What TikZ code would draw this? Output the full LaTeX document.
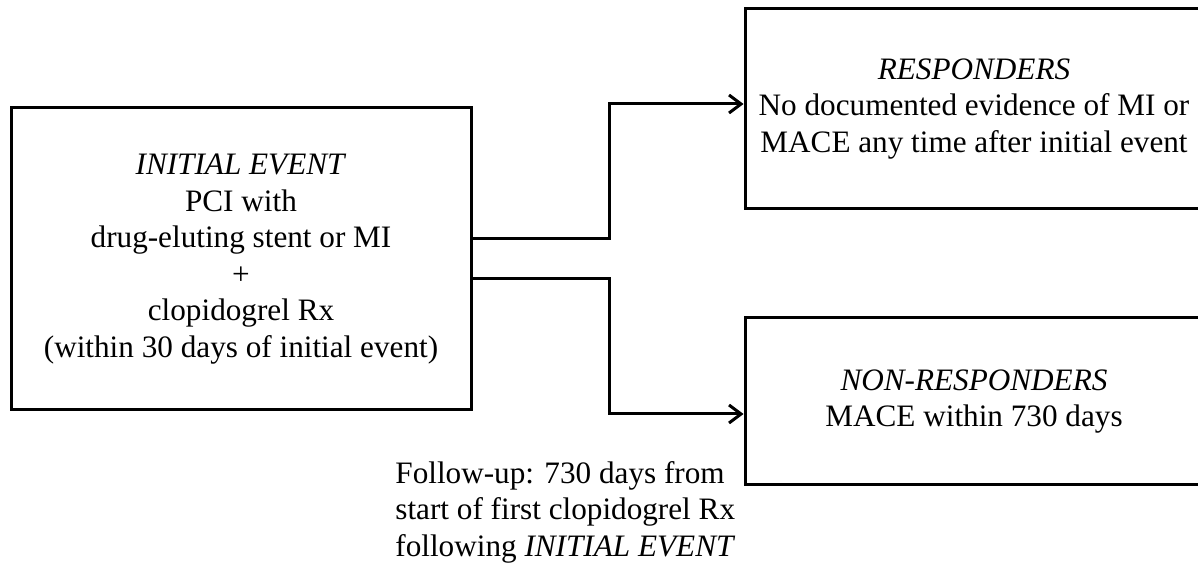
\documentclass[tikz,border=0pt]{standalone}
\usepackage{fontspec}
\setmainfont{Liberation Serif}
\usetikzlibrary{arrows.meta}
\begin{document}
\begin{tikzpicture}[x=0.5pt,y=-0.5pt,
  box/.style={draw=black, line width=1.5pt, align=center, inner sep=0pt,
    font=\fontsize{15.6}{18.3}\selectfont},
  conn/.style={line width=1.5pt, -{Straight Barb[length=6pt,width=9pt,line width=1.5pt]}},
  ]
\useasboundingbox (0,0) rectangle (1198,565);
\node[box, minimum width=230pt, minimum height=151pt] (init) at (241,259)
  {\textit{INITIAL EVENT}\\PCI with\\drug-eluting stent or MI\\+\\clopidogrel Rx\\(within 30 days of initial event)};
\node[box, minimum width=229pt, minimum height=100pt] (resp) at (974,109)
  {\textit{RESPONDERS}\\No documented evidence of MI or\\MACE any time after initial event};
\node[box, minimum width=229pt, minimum height=83.5pt] (nonresp) at (974,401.5)
  {\textit{NON-RESPONDERS}\\MACE within 730 days};
\node[anchor=north west, inner sep=0pt, align=left, font=\fontsize{15.6}{18.3}\selectfont] (fu) at (395,461)
  {Follow-up: 730 days from\\start of first clopidogrel Rx\\following \textit{INITIAL EVENT}};
\draw[conn] ([yshift=10pt]init.east) -- ++(68.5pt,0) |- ([yshift=2.5pt]resp.west);
\draw[conn] ([yshift=-10pt]init.east) -- ++(68.5pt,0) |- ([yshift=-6.25pt]nonresp.west);
\end{tikzpicture}
\end{document}
